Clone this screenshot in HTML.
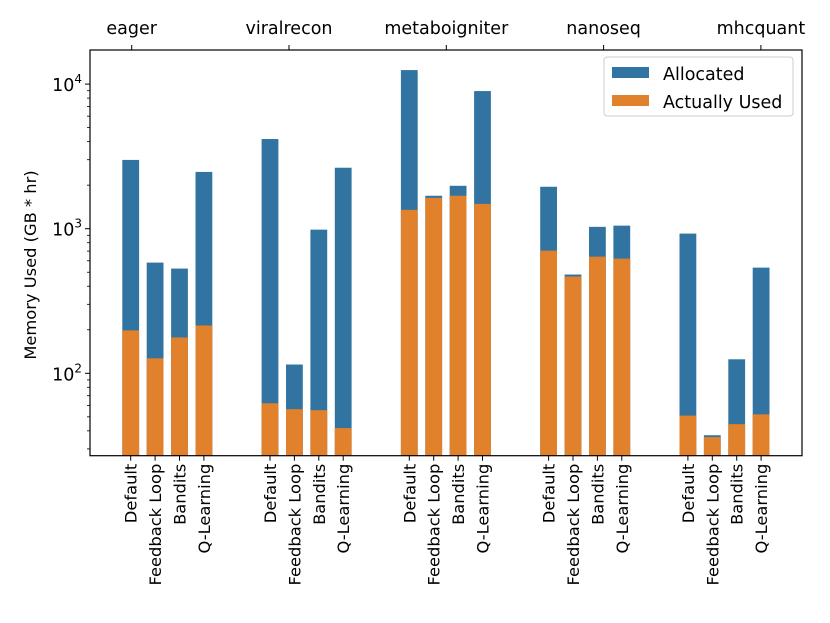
<!DOCTYPE html>
<html><head><meta charset="utf-8"><style>
html,body{margin:0;padding:0;background:#fff;}
svg{display:block;font-family:"DejaVu Sans","Liberation Sans",sans-serif;}
</style></head><body>
<svg id="chart" width="830" height="623" viewBox="0 0 830 623">
<g id="bars"></g>
<g id="axes"></g>
</svg>
<script>
const pipelines = ["eager","viralrecon","metaboigniter","nanoseq","mhcquant"];
const methods = ["Default","Feedback Loop","Bandits","Q-Learning"];
const allocated = [
  [2990, 583, 530, 2470],
  [4170, 115, 985, 2640],
  [12500, 1690, 1980, 8950],
  [1950, 482, 1030, 1050],
  [925, 37.3, 125, 538]
];
const actuallyUsed = [
  [198, 127, 177, 214],
  [62, 56.5, 55.6, 41.8],
  [1350, 1635, 1690, 1485],
  [705, 467, 641, 621],
  [51, 36.2, 44.5, 52]
];
const yTickValues = [100, 1000, 10000];
const yTickExps = ["2","3","4"];

const NS = "http://www.w3.org/2000/svg";
const L = 90, R = 802, T = 50, B = 455.7;
function y(v){ return 373.3 - (Math.log10(v) - 2) * 144.6; }
function x(g, m){ return 130.7 + g * 139.3 + m * 24.4; }
const BW = 16.8;
function el(tag, attrs, parent){
  const e = document.createElementNS(NS, tag);
  for (const k in attrs) e.setAttribute(k, attrs[k]);
  parent.appendChild(e); return e;
}
const bars = document.getElementById('bars');
const axes = document.getElementById('axes');
pipelines.forEach((p, g) => {
  methods.forEach((m, i) => {
    const cx = x(g, i);
    const a = el('rect', {x: cx - BW/2, y: y(allocated[g][i]), width: BW, height: B - y(allocated[g][i]), fill: '#3274a1'}, bars);
    
    
    const u = el('rect', {x: cx - BW/2, y: y(actuallyUsed[g][i]), width: BW, height: B - y(actuallyUsed[g][i]), fill: '#e1812c'}, bars);
    
    
    el('line', {x1: cx, x2: cx, y1: B, y2: B + 5, stroke: '#000', 'stroke-width': 1}, axes);
    const t = el('text', {x: 0, y: 0, transform: `translate(${cx + 6},${B + 8}) rotate(-90)`, 'text-anchor': 'end', 'font-size': 16.3}, axes);
    t.textContent = m;
    
    
  });
  const tx = 131.7 + g * 157.3;
  el('line', {x1: tx, x2: tx, y1: T, y2: T - 5, stroke: '#000', 'stroke-width': 1}, axes);
  const tt = el('text', {x: tx, y: 34, 'text-anchor': 'middle', 'font-size': 17.5}, axes);
  tt.textContent = p;
  
  
});
for (let e = 1; e <= 4; e++) for (let k = 2; k <= 9; k++) {
  const v = k * Math.pow(10, e); const yy = y(v);
  if (yy > T && yy < B) el('line', {x1: L, x2: L - 3, y1: yy, y2: yy, stroke: '#000', 'stroke-width': 0.8}, axes);
}
yTickValues.forEach((v, i) => {
  const yy = y(v);
  el('line', {x1: L, x2: L - 5, y1: yy, y2: yy, stroke: '#000', 'stroke-width': 1}, axes);
  const t = el('text', {x: L - 8, y: yy + 7, 'text-anchor': 'end', 'font-size': 17.5}, axes);
  t.innerHTML = '10<tspan dy="-8" font-size="12">' + yTickExps[i] + '</tspan>';
  
  
});
el('rect', {x: L, y: T, width: R - L, height: B - T, fill: 'none', stroke: '#000', 'stroke-width': 1.2}, axes);
const yl = el('text', {x: 0, y: 0, transform: 'translate(36,265) rotate(-90)', 'text-anchor': 'middle', 'font-size': 16.3}, axes);
yl.textContent = 'Memory Used (GB * hr)';


const lg = el('g', {}, axes);


el('rect', {x: 604, y: 57, width: 189, height: 59, rx: 3, fill: '#fff', stroke: '#ccc', 'stroke-width': 1}, lg);
el('rect', {x: 612, y: 67, width: 37, height: 11, fill: '#3274a1'}, lg);
el('rect', {x: 612, y: 95, width: 37, height: 11, fill: '#e1812c'}, lg);
const l1 = el('text', {x: 663, y: 80, 'font-size': 17.5}, lg); l1.textContent = 'Allocated';


const l2 = el('text', {x: 663, y: 108, 'font-size': 17.5}, lg); l2.textContent = 'Actually Used';


</script>
</body></html>
